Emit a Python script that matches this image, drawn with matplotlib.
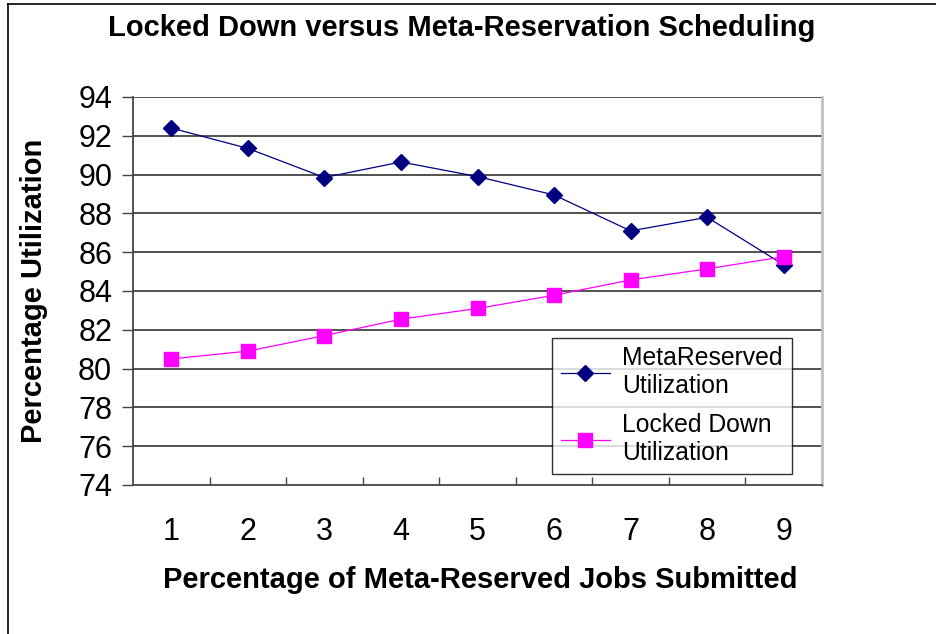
import matplotlib
matplotlib.use("Agg")
import matplotlib.pyplot as plt
from matplotlib.lines import Line2D
import numpy as np

plt.rcParams['font.family'] = ['Liberation Sans', 'DejaVu Sans']

# data
categories = [1, 2, 3, 4, 5, 6, 7, 8, 9]
meta_reserved = [92.4, 91.35, 89.85, 90.65, 89.9, 88.95, 87.1, 87.8, 85.35]
locked_down = [80.5, 80.9, 81.7, 82.55, 83.1, 83.78, 84.57, 85.14, 85.77]
y_ticks = [74, 76, 78, 80, 82, 84, 86, 88, 90, 92, 94]

title = "Locked Down versus Meta-Reservation Scheduling"
x_label = "Percentage of Meta-Reserved Jobs Submitted"
y_label = "Percentage Utilization"
labels = ["MetaReserved\nUtilization", "Locked Down\nUtilization"]

W, H = 937, 634
fig = plt.figure(figsize=(W / 100, H / 100), dpi=100)
fig.patch.set_facecolor("white")

# plot area in pixels: x 133..822, y 97..485
ax = fig.add_axes([133 / W, 1 - 485 / H, (822 - 133) / W, (485 - 97) / H])

x = np.array(categories)
ax.plot(x, meta_reserved, color="#000080", lw=0.9, marker="D", ms=8,
        mfc="#000080", mec="#000080", label=labels[0], zorder=3)
ax.plot(x, locked_down, color="#FF00FF", lw=0.9, marker="s", ms=9.5,
        mfc="#FF00FF", mec="#FF00FF", label=labels[1], zorder=4)

ax.set_xlim(0.5, 9.5)
ax.set_ylim(74, 94)
ax.set_yticks(y_ticks)
ax.set_xticks(categories)
ax.set_xticks(np.arange(1.5, 9.5, 1), minor=True)

for y in y_ticks[1:]:
    ax.axhline(y, color="#333333", lw=1.2, zorder=1)

ax.tick_params(axis="y", which="major", direction="out", length=8, width=1,
               color="#444444", pad=7, labelsize=22)
ax.tick_params(axis="x", which="major", length=0, pad=23, labelsize=22)
ax.tick_params(axis="x", which="minor", direction="in", length=6, width=1,
               color="#444444")

for side in ["left", "bottom"]:
    ax.spines[side].set_color("#444444")
    ax.spines[side].set_linewidth(1.3)
ax.spines["top"].set_visible(False)
ax.spines["right"].set_color("#c0c0c0")
ax.spines["right"].set_linewidth(2)

ax.set_ylabel(y_label, fontsize=21, fontweight="bold")
ax.yaxis.set_label_coords(-0.123, 0.5)
ax.set_xlabel(x_label, fontsize=21, fontweight="bold")
ax.xaxis.set_label_coords(0.504, -0.209)

fig.text(462 / W, 1 - 28 / H, title, ha="center", va="center",
         fontsize=21, fontweight="bold")

leg = ax.legend(loc="lower left", bbox_to_anchor=(0.608, 0.028),
                borderaxespad=0, fontsize=17.8, frameon=True, fancybox=False,
                handlelength=2.0, handletextpad=0.5, labelspacing=0.6,
                borderpad=0.35)
leg.get_frame().set_edgecolor("black")
leg.get_frame().set_linewidth(1)
leg.set_zorder(5)
for t in leg.get_texts():
    t.set_linespacing(1.22)

# chart border (top and left visible)
fig.add_artist(Line2D([8 / W, 1], [1 - 4 / H, 1 - 4 / H], color="black", lw=1.2))
fig.add_artist(Line2D([8 / W, 8 / W], [0, 1 - 4 / H], color="black", lw=1.2))

fig.savefig("out.png", dpi=100)
